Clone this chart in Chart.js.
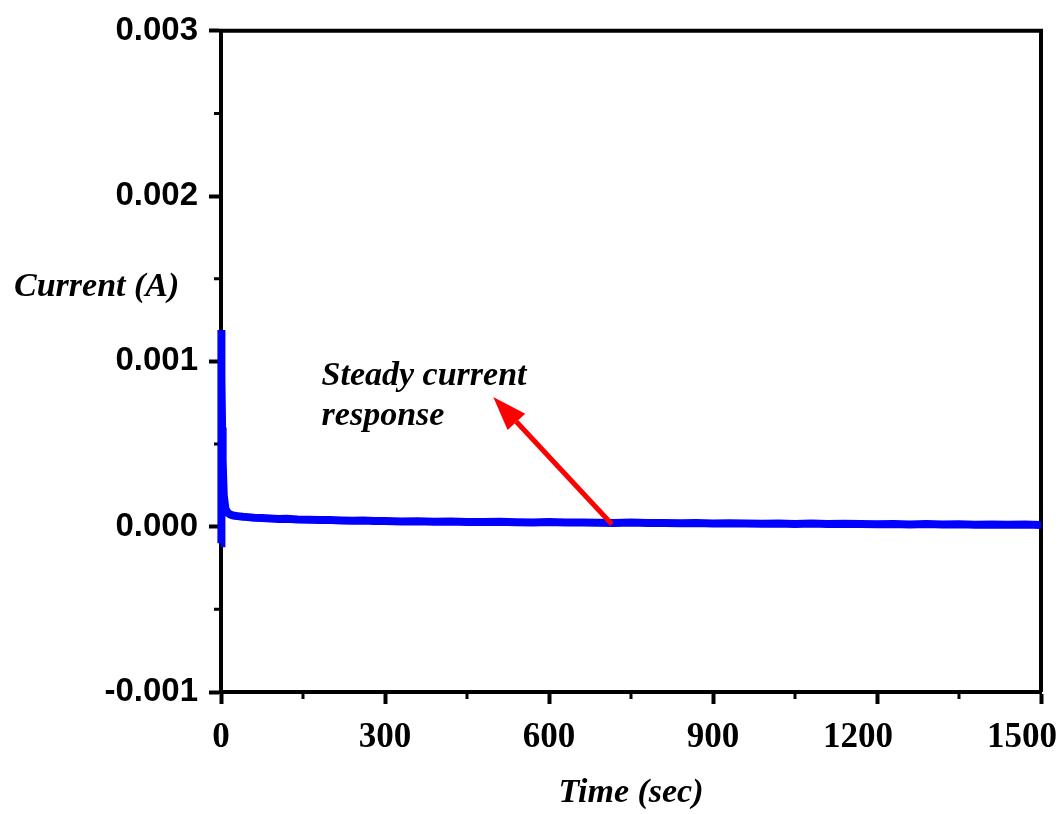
<!DOCTYPE html>
<html lang="en">
<head>
<meta charset="UTF-8">
<title>Current vs time</title>
<style>body{margin:0;background:#fff}</style>
</head>
<body>
<canvas id="currentChart" width="1063" height="814"></canvas>
<script src="https://cdn.jsdelivr.net/npm/chart.js"></script>
<script>
// time in seconds
const timeSec = [0, 0.5, 1, 2, 3, 5, 8, 12, 16, 20, 25, 30, 40, 50, 60, 75, 90, 105, 120, 140,
    160, 180, 200, 220, 240, 260, 280, 300, 330, 360, 390, 420, 450, 480, 510, 540, 570, 600,
    630, 660, 690, 720, 750, 780, 810, 840, 870, 900, 930, 960, 990, 1020, 1050, 1080, 1110,
    1140, 1170, 1200, 1230, 1260, 1290, 1320, 1350, 1380, 1410, 1440, 1470, 1500];
// current in A
const currentA = [-0.000100, 0.001190, 0.000900, 0.000600, 0.000400, 0.000190, 0.000110, 0.000085,
    0.000075, 0.000070, 0.000066, 0.000064, 0.000060, 0.000058, 0.000054, 0.000052, 0.000050,
    0.000047, 0.000048, 0.000044, 0.000042, 0.000040, 0.000041, 0.000038, 0.000036, 0.000037,
    0.000035, 0.000034, 0.000032, 0.000033, 0.000030, 0.000031, 0.000029, 0.000028, 0.000030,
    0.000027, 0.000026, 0.000028, 0.000025, 0.000026, 0.000024, 0.000023, 0.000025, 0.000022,
    0.000023, 0.000021, 0.000022, 0.000020, 0.000021, 0.000019, 0.000018, 0.000020, 0.000017,
    0.000019, 0.000016, 0.000018, 0.000017, 0.000015, 0.000017, 0.000014, 0.000016, 0.000013,
    0.000015, 0.000012, 0.000014, 0.000012, 0.000013, 0.000011];

// axis ticks
const yMajor = [-0.001, 0, 0.001, 0.002, 0.003];
const yMinor = [-0.0005, 0.0005, 0.0015, 0.0025];
const xMajor = [0, 300, 600, 900, 1200, 1500];
const xMinor = [150, 450, 750, 1050, 1350];
const xLabels = ['0', '300', '600', '900', '1200', '1500'];

// note and arrow, in data units (time, current)
const noteLines = ['Steady current', 'response'];
const notePos = [184, 0.000860];
const arrowFrom = [715, 0.000015];
const arrowTo = [498, 0.000785];

const serif = '"Liberation Serif", "Times New Roman", serif';

// draws the frame, the minor ticks, the x labels, the arrow and the texts
const extras = {
    id: 'extras',
    beforeDatasetsDraw(chart) {
        const {ctx, chartArea: a, scales: {x, y}} = chart;
        ctx.save();
        ctx.strokeStyle = '#000';
        ctx.lineWidth = 4;
        ctx.beginPath();
        ctx.moveTo(a.left - 2, a.top);
        ctx.lineTo(a.right, a.top);
        ctx.lineTo(a.right, a.bottom);
        ctx.stroke();
        // minor ticks
        ctx.lineWidth = 3;
        ctx.beginPath();
        yMinor.forEach(v => {
            const py = y.getPixelForValue(v);
            ctx.moveTo(a.left - 7, py);
            ctx.lineTo(a.left, py);
        });
        xMinor.forEach(v => {
            const px = x.getPixelForValue(v);
            ctx.moveTo(px, a.bottom);
            ctx.lineTo(px, a.bottom + 7);
        });
        ctx.stroke();

        // x tick labels (the four digit ones sit a bit left, as in the original)
        ctx.fillStyle = '#000';
        ctx.font = 'bold 35px ' + serif;
        ctx.textAlign = 'center';
        ctx.textBaseline = 'alphabetic';
        xMajor.forEach((v, i) => {
            const shift = xLabels[i].length > 3 ? 19 : 0;
            ctx.fillText(xLabels[i], x.getPixelForValue(v) - shift, a.bottom + 55);
        });
        ctx.restore();
    },
    afterDraw(chart) {
        const {ctx, chartArea: a, scales: {x, y}} = chart;
        ctx.save();
        // arrow
        const x1 = x.getPixelForValue(arrowFrom[0]), y1 = y.getPixelForValue(arrowFrom[1]);
        const x2 = x.getPixelForValue(arrowTo[0]), y2 = y.getPixelForValue(arrowTo[1]);
        const ang = Math.atan2(y2 - y1, x2 - x1);
        const headLen = 34, headHalf = 12;
        const bx = x2 - headLen * Math.cos(ang), by = y2 - headLen * Math.sin(ang);
        ctx.strokeStyle = '#ff0000';
        ctx.fillStyle = '#ff0000';
        ctx.lineWidth = 5;
        ctx.beginPath();
        ctx.moveTo(x1, y1);
        ctx.lineTo(bx, by);
        ctx.stroke();
        ctx.beginPath();
        ctx.moveTo(x2, y2);
        ctx.lineTo(bx + headHalf * Math.sin(ang), by - headHalf * Math.cos(ang));
        ctx.lineTo(bx - headHalf * Math.sin(ang), by + headHalf * Math.cos(ang));
        ctx.closePath();
        ctx.fill();

        // note text
        ctx.fillStyle = '#000';
        ctx.font = 'italic bold 34px ' + serif;
        ctx.textAlign = 'left';
        ctx.textBaseline = 'alphabetic';
        const nx = x.getPixelForValue(notePos[0]);
        const ny = y.getPixelForValue(notePos[1]);
        noteLines.forEach((t, i) => ctx.fillText(t, nx, ny + i * 40));

        // y axis title, written flat left of the axis
        ctx.textBaseline = 'middle';
        ctx.fillText('Current (A)', a.left - 207, y.getPixelForValue(0.00145));
        ctx.restore();
    }
};

const ctx = document.getElementById('currentChart');

const currentChart = new Chart(ctx, {
    type: 'line',
    data: {
        datasets: [{
            label: 'Current',
            data: timeSec.map((t, i) => ({x: t, y: currentA[i]})),
            borderColor: '#0000ff',
            borderWidth: 8,
            pointRadius: 0,
            tension: 0,
            clip: false
        }]
    },
    options: {
        responsive: false,
        animation: false,
        layout: {padding: {top: 30, right: 22, left: 0, bottom: 0}},
        plugins: {
            legend: {display: false},
            tooltip: {enabled: false}
        },
        scales: {
            x: {
                type: 'linear',
                min: 0,
                max: 1500,
                afterBuildTicks: s => { s.ticks = xMajor.map(v => ({value: v})); },
                afterFit: s => { s.height = 122; s.paddingLeft = 0; s.paddingRight = 0; },
                border: {display: true, color: '#000', width: 4},
                grid: {drawOnChartArea: false, drawTicks: true, tickLength: 12, tickColor: '#000', tickWidth: 4},
                ticks: {display: false},
                title: {
                    display: true,
                    text: 'Time (sec)',
                    color: '#000',
                    padding: 0,
                    font: {family: serif, weight: 'bold', style: 'italic', size: 34}
                }
            },
            y: {
                min: -0.001,
                max: 0.003,
                afterBuildTicks: s => { s.ticks = yMajor.map(v => ({value: v})); },
                afterFit: s => { s.width = 221; },
                border: {display: true, color: '#000', width: 4},
                grid: {drawOnChartArea: false, drawTicks: true, tickLength: 12, tickColor: '#000', tickWidth: 4},
                ticks: {
                    color: '#000',
                    padding: 11,
                    callback: v => v.toFixed(3),
                    font: {family: '"Liberation Sans", Arial, sans-serif', weight: 'bold', size: 33}
                }
            }
        }
    },
    plugins: [extras]
});
</script>
</body>
</html>
